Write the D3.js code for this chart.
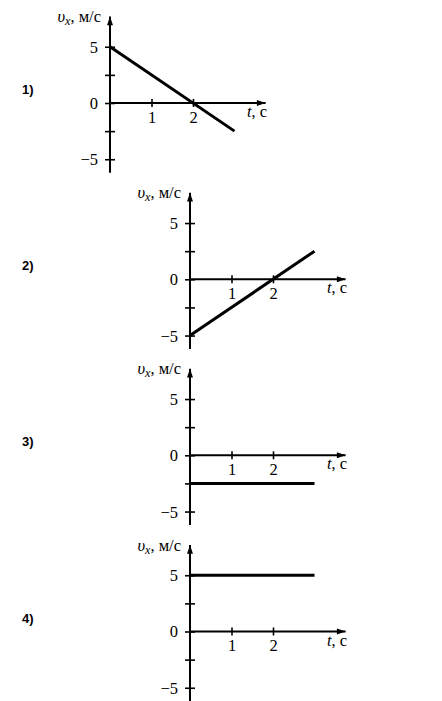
<!DOCTYPE html>
<html>
<head>
<meta charset="utf-8">
<script src="https://cdn.jsdelivr.net/npm/d3@7"></script>
<style>
html,body{margin:0;padding:0;background:#fff;}
svg{display:block;}
</style>
</head>
<body>
<svg id="chart" width="442" height="701"></svg>
<script>
// ---- data ----
const panelLabels = ["1)", "2)", "3)", "4)"];
const timeValues = [0, 3];            // t, s (start and end of each graph line)
const velocity1 = [5, -2.5];          // v_x, m/s
const velocity2 = [-5, 2.5];
const velocity3 = [-2.5, -2.5];
const velocity4 = [5, 5];
const seriesList = [velocity1, velocity2, velocity3, velocity4];
const yTickValues = [-5, -2.5, 0, 2.5, 5];
const yTickLabels = ["−5", "", "0", "", "5"];
const xTickValues = [1, 2];
const xTickLabels = ["1", "2"];

// ---- layout ----
const originX = [110, 190, 190, 190];
const originY = [103, 279.3, 455.3, 631.5];
const pxPerT = 41.5, pxPerV = 11.25;
const tMax = 3.75, vMin = -6.2, vMax = 7.7;

const svg = d3.select("#chart");
const defs = svg.append("defs");
defs.append("marker")
  .attr("id", "arrow")
  .attr("viewBox", "0 0 10 8")
  .attr("refX", 10).attr("refY", 4)
  .attr("markerUnits", "userSpaceOnUse")
  .attr("markerWidth", 10).attr("markerHeight", 7)
  .attr("orient", "auto")
  .append("path").attr("d", "M0,0.6 L10,4 L0,7.4 Z").attr("fill", "#000");

const serif = "Liberation Serif, Times New Roman, serif";
const fs = 16.5;

seriesList.forEach((vals, i) => {
  const ox = originX[i], oy = originY[i];
  const x = d3.scaleLinear().domain([0, tMax]).range([ox, ox + tMax * pxPerT]);
  const y = d3.scaleLinear().domain([vMin, vMax]).range([oy - vMin * pxPerV, oy - vMax * pxPerV]);
  const g = svg.append("g");

  // y axis with ticks
  const yAxis = d3.axisLeft(y).tickValues(yTickValues)
    .tickFormat((d, k) => yTickLabels[k]).tickSize(5).tickPadding(7);
  const ya = g.append("g").attr("transform", `translate(${x(0)},0)`).call(yAxis)
    .attr("font-family", serif).attr("font-size", fs);
  ya.select(".domain").remove();
  ya.selectAll(".tick line").attr("x1", -5).attr("x2", 5)
    .attr("stroke", "#000").attr("stroke-width", 1.6);
  ya.selectAll(".tick text").attr("fill", "#000").attr("dy", "0.33em");

  // x axis with ticks
  const xAxis = d3.axisBottom(x).tickValues(xTickValues)
    .tickFormat((d, k) => xTickLabels[k]).tickSize(4).tickPadding(4);
  const xa = g.append("g").attr("transform", `translate(0,${y(0)})`).call(xAxis)
    .attr("font-family", serif).attr("font-size", fs);
  xa.select(".domain").remove();
  xa.selectAll(".tick line").attr("y1", -4).attr("y2", 4)
    .attr("stroke", "#000").attr("stroke-width", 1.6);
  xa.selectAll(".tick text").attr("fill", "#000");

  // axis lines with arrows
  g.append("line")
    .attr("x1", x(0)).attr("y1", y(vMin)).attr("x2", x(0)).attr("y2", y(vMax))
    .attr("stroke", "#000").attr("stroke-width", 2).attr("marker-end", "url(#arrow)");
  g.append("line")
    .attr("x1", x(0)).attr("y1", y(0)).attr("x2", x(tMax)).attr("y2", y(0))
    .attr("stroke", "#000").attr("stroke-width", 2).attr("marker-end", "url(#arrow)");

  // data line
  const pts = timeValues.map((t, k) => [t, vals[k]]);
  g.append("path")
    .attr("d", d3.line().x(d => x(d[0])).y(d => y(d[1]))(pts))
    .attr("fill", "none").attr("stroke", "#000").attr("stroke-width", 3);

  // y-axis title
  const yt = g.append("text")
    .attr("x", x(0) - 9).attr("y", y(0) - 81)
    .attr("text-anchor", "end").attr("font-family", serif).attr("font-size", fs).attr("fill", "#000");
  yt.append("tspan").attr("font-style", "italic").text("υ");
  yt.append("tspan").attr("font-style", "italic").attr("font-size", 12).attr("dy", 3).text("x");
  yt.append("tspan").attr("dy", -3).text(", м/с");

  // x-axis title
  const xt = g.append("text")
    .attr("x", x(0) + 137).attr("y", y(0) + 14)
    .attr("font-family", serif).attr("font-size", fs).attr("fill", "#000");
  xt.append("tspan").attr("font-style", "italic").text("t");
  xt.append("tspan").text(", с");

  // panel label
  g.append("text")
    .attr("x", 22).attr("y", y(0) - 9)
    .attr("font-family", "Liberation Sans, Arial, sans-serif").attr("font-size", 13)
    .attr("font-weight", "bold").attr("fill", "#000")
    .text(panelLabels[i]);
});
</script>
</body>
</html>
